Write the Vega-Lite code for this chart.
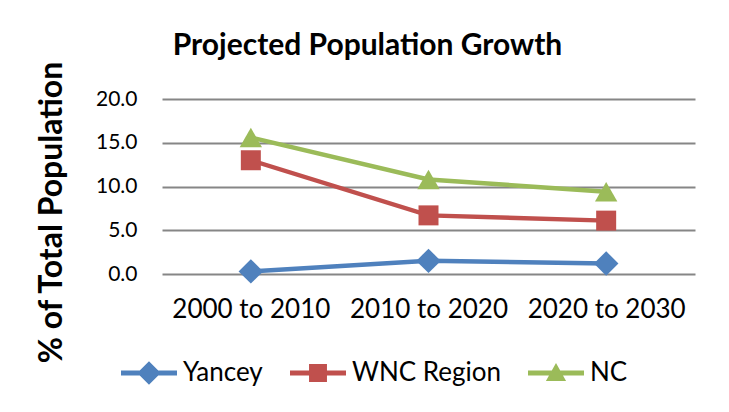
{
  "$schema": "https://vega.github.io/schema/vega-lite/v6.json",
  "width": 533,
  "height": 175,
  "autosize": {"type": "none"},
  "padding": {"left": 162, "top": 99, "right": 34, "bottom": 138},
  "background": "white",
  "config": {"view": {"stroke": null}, "font": "Lato"},
  "title": {
    "text": "Projected Population Growth",
    "font": "Lato",
    "fontSize": 30,
    "fontWeight": "bold",
    "color": "black",
    "anchor": "middle",
    "dx": -61,
    "dy": 8,
    "offset": 7
  },
  "data": {
    "values": [
      {"period": "2000 to 2010", "series": "Yancey", "value": 0.3},
      {"period": "2010 to 2020", "series": "Yancey", "value": 1.5},
      {"period": "2020 to 2030", "series": "Yancey", "value": 1.2},
      {"period": "2000 to 2010", "series": "WNC Region", "value": 13.0},
      {"period": "2010 to 2020", "series": "WNC Region", "value": 6.7},
      {"period": "2020 to 2030", "series": "WNC Region", "value": 6.1},
      {"period": "2000 to 2010", "series": "NC", "value": 15.6},
      {"period": "2010 to 2020", "series": "NC", "value": 10.8},
      {"period": "2020 to 2030", "series": "NC", "value": 9.4}
    ]
  },
  "encoding": {
    "x": {
      "field": "period",
      "type": "ordinal",
      "sort": null,
      "scale": {"type": "point", "padding": 0.5},
      "axis": {
        "title": null,
        "labelAngle": 0,
        "labelFont": "Lato",
        "labelFontSize": 26,
        "labelColor": "black",
        "labelPadding": 22,
        "ticks": false,
        "domain": false,
        "grid": false
      }
    },
    "y": {
      "field": "value",
      "type": "quantitative",
      "scale": {"domain": [0, 20], "nice": false},
      "axis": {
        "values": [0, 5, 10, 15, 20],
        "format": ".1f",
        "labelFont": "Lato",
        "labelFontSize": 21,
        "labelColor": "black",
        "labelPadding": 25,
        "ticks": false,
        "domain": false,
        "grid": true,
        "gridColor": "#868686",
        "gridWidth": 1.8,
        "title": "% of Total Population",
        "titleFont": "Lato",
        "titleFontSize": 32,
        "titleFontWeight": "bold",
        "titleColor": "black",
        "titleX": -111,
        "titleY": 113,
        "titleAngle": -90,
        "titleAlign": "center",
        "titleBaseline": "middle"
      }
    },
    "color": {
      "field": "series",
      "type": "nominal",
      "scale": {
        "domain": ["Yancey", "WNC Region", "NC"],
        "range": ["#4F81BD", "#C0504D", "#9BBB59"]
      },
      "legend": {
        "title": null,
        "orient": "none",
        "direction": "horizontal",
        "legendX": -41,
        "legendY": 246,
        "padding": 0,
        "labelFont": "Lato",
        "labelFontSize": 26,
        "labelColor": "black",
        "labelOffset": 6,
        "columnPadding": 27,
        "symbolSize": 3136,
        "symbolOpacity": 1,
        "symbolStrokeWidth": 0
      }
    }
  },
  "layer": [
    {
      "mark": {"type": "line", "strokeWidth": 4.5}
    },
    {
      "transform": [{"filter": "datum.series === 'Yancey'"}],
      "mark": {"type": "point", "filled": true, "opacity": 1, "shape": "diamond", "size": 600}
    },
    {
      "transform": [{"filter": "datum.series === 'WNC Region'"}],
      "mark": {"type": "point", "filled": true, "opacity": 1, "shape": "square", "size": 400}
    },
    {
      "transform": [{"filter": "datum.series === 'NC'"}],
      "mark": {"type": "point", "filled": true, "opacity": 1, "shape": "triangle-up", "size": 500}
    },
    {
      "transform": [{"filter": "datum.value < -100"}],
      "mark": {"type": "point", "filled": true, "opacity": 1},
      "encoding": {
        "shape": {
          "field": "series",
          "type": "nominal",
          "scale": {
            "domain": ["Yancey", "WNC Region", "NC"],
            "range": [
              "M-1,-0.09H1V0.09H-1Z M0,-0.42L0.42,0L0,0.42L-0.42,0Z",
              "M-1,-0.09H1V0.09H-1Z M-0.32,-0.32H0.32V0.32H-0.32Z",
              "M-1,-0.09H1V0.09H-1Z M0,-0.36L0.36,0.29L-0.36,0.29Z"
            ]
          },
          "legend": {
            "title": null,
            "orient": "none",
            "direction": "horizontal",
            "legendX": -41,
            "legendY": 246,
            "padding": 0,
            "labelFont": "Lato",
            "labelFontSize": 26,
            "labelColor": "black",
            "labelOffset": 6,
            "columnPadding": 27,
            "symbolSize": 3136,
            "symbolOpacity": 1,
            "symbolStrokeWidth": 0
          }
        }
      }
    }
  ]
}
